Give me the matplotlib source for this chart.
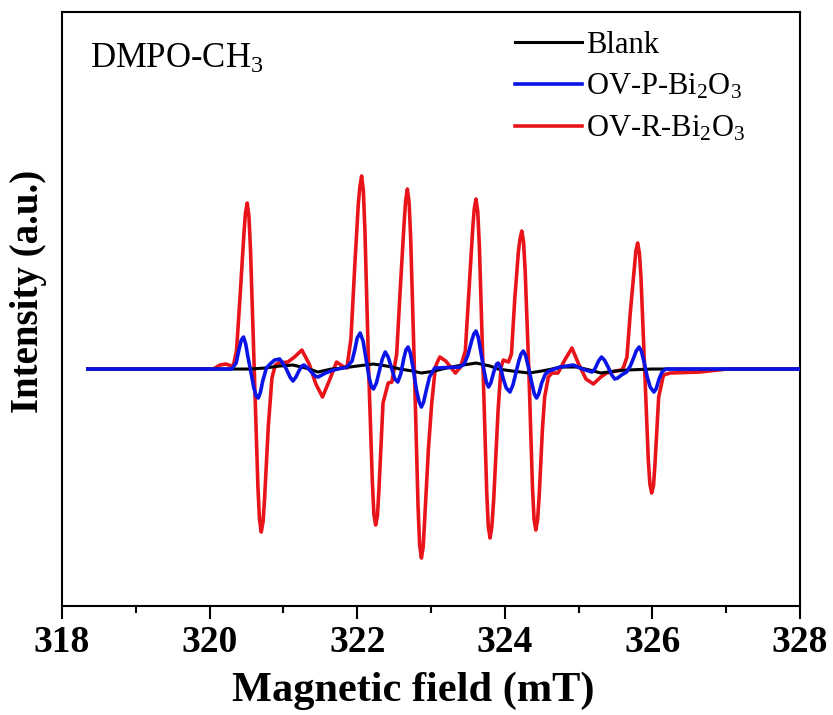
import matplotlib
matplotlib.use('Agg')
import matplotlib.pyplot as plt
import numpy as np

plt.rcParams['font.family'] = ['Liberation Serif', 'DejaVu Serif']
plt.rcParams['mathtext.fontset'] = 'custom'
plt.rcParams['mathtext.rm'] = 'Liberation Serif'
plt.rcParams['mathtext.it'] = 'Liberation Serif:italic'
plt.rcParams['mathtext.bf'] = 'Liberation Serif:bold'

# EPR spectra (field in mT, intensity in a.u.)
field_red = [318.35, 320.05, 320.14, 320.22, 320.30,
             320.32, 320.365, 320.415, 320.465, 320.486, 320.51, 320.534, 320.555,
             320.605, 320.655, 320.676, 320.70, 320.724,
             320.745, 320.795, 320.845, 320.89, 320.93, 321.06, 321.15, 321.25, 321.35,
             321.44, 321.53, 321.62, 321.72, 321.80, 321.86,
             321.915, 321.965, 322.015, 322.036, 322.06, 322.084, 322.105, 322.155,
             322.205, 322.226, 322.25, 322.274,
             322.295, 322.35, 322.42, 322.47,
             322.535, 322.585, 322.635, 322.656, 322.68, 322.704, 322.725, 322.775,
             322.825, 322.846, 322.87, 322.894,
             322.915, 322.965, 323.01, 323.06, 323.08, 323.12, 323.20, 323.33, 323.40,
             323.465, 323.515, 323.565, 323.586, 323.61, 323.634, 323.655, 323.705,
             323.755, 323.776, 323.80, 323.824,
             323.85, 323.91, 323.95, 323.98, 324.05,
             324.09, 324.135, 324.185, 324.206, 324.23, 324.254, 324.275, 324.325,
             324.375, 324.396, 324.42, 324.444,
             324.465, 324.51, 324.54, 324.59, 324.64, 324.72, 324.82, 324.91, 325.00,
             325.10, 325.20, 325.30, 325.38, 325.50, 325.58,
             325.61, 325.655, 325.70, 325.755, 325.776, 325.80, 325.824, 325.845,
             325.895, 325.945, 325.966, 325.99, 326.014,
             326.035, 326.085, 326.15, 326.24, 326.64, 327.01, 328.00]
int_red = [0, 0, 4, 5, 3,
           3, 18, 75, 135, 156, 166, 152, 118,
           0, -118, -150, -163, -153,
           -130, -58, -9, 4, 6, 7, 12, 19, 5,
           -15, -28, -12, 7, 3, 1,
           30, 100, 165, 182, 193, 178, 138, 0,
           -112, -145, -156, -147,
           -120, -34, -14, -13,
           15, 82, 145, 168, 180, 166, 130, 0,
           -138, -176, -189, -178,
           -150, -80, -34, 2, 6, 12, 8, -4, 2,
           18, 79, 140, 160, 170, 157, 124, 0,
           -123, -157, -169, -158,
           -130, -40, 2, 9, 7,
           15, 70, 118, 130, 138, 127, 100, 0,
           -118, -150, -161, -151,
           -128, -60, -28, -8, -4, -4, 10, 21, 5,
           -10, -15, -8, -4, -2, -1,
           2, 12, 56, 100, 118, 126, 116, 92,
           0, -92, -115, -124, -117,
           -95, -28, -6, -4, -3, 0, 0]

field_blue = [318.35, 320.30, 320.36, 320.40, 320.43, 320.46, 320.49, 320.52, 320.56,
              320.60, 320.63, 320.66, 320.69, 320.72, 320.77, 320.82, 320.88, 320.95,
              321.00, 321.04, 321.09, 321.13, 321.17, 321.21, 321.25, 321.28, 321.33,
              321.38, 321.43, 321.47, 321.52, 321.57, 321.68, 321.80, 321.86,
              321.93, 321.97, 322.00, 322.04, 322.08, 322.12, 322.16, 322.19, 322.22,
              322.26, 322.30, 322.34, 322.38, 322.42, 322.47, 322.51, 322.55, 322.59,
              322.63, 322.66, 322.69, 322.72, 322.76, 322.80, 322.84, 322.87, 322.90,
              322.94, 322.98, 323.05, 323.39,
              323.45, 323.50, 323.55, 323.58, 323.61, 323.64, 323.68, 323.72, 323.75,
              323.78, 323.81, 323.85, 323.89, 323.91, 323.94, 323.98, 324.02, 324.07,
              324.11, 324.15, 324.19, 324.22, 324.25, 324.28, 324.32, 324.36, 324.40,
              324.43, 324.46, 324.50, 324.55, 324.60, 324.75, 324.93, 325.05, 325.18,
              325.22, 325.27, 325.31, 325.35, 325.40, 325.45, 325.49, 325.53, 325.58,
              325.65, 325.70, 325.74, 325.78, 325.82, 325.85, 325.89, 325.93, 325.97,
              326.02, 326.05, 326.09, 326.13, 326.18, 326.30, 328.00]
int_blue = [0, 0, 6, 20, 29, 32, 25, 12, -3,
            -19, -27, -29, -23, -12, 1, 5, 9, 10,
            5, 0, -8, -12, -8, -2, 3, 4, 1,
            -3, -7, -8, -6, -4, -1, 1, 2,
            8, 20, 31, 36, 28, 10, -8, -17, -20,
            -14, -2, 10, 17, 12, 0, -10, -13, -5,
            10, 19, 22, 16, 0, -20, -33, -38, -33,
            -20, -8, 1, 2,
            5, 14, 28, 35, 38, 32, 15, -2, -13,
            -18, -14, -3, 5, 6, 2, -10, -19, -23,
            -16, -4, 8, 15, 18, 14, 2, -12, -25,
            -29, -25, -14, -5, -2, 2, 4, 0, -3,
            0, 8, 12, 9, 2, -6, -10, -9, -6,
            -3, 3, 10, 18, 22, 18, 6, -8, -18,
            -23, -20, -10, -3, 0, 0, 0]

field_blank = [318.35, 320.20, 320.55, 320.75, 320.95, 321.13, 321.30, 321.47, 321.65,
               321.80, 322.00, 322.22, 322.40, 322.58, 322.75, 322.87, 323.05, 323.15,
               323.35, 323.61, 323.80, 323.91, 324.10, 324.33, 324.50, 324.64, 324.75,
               324.98, 325.15, 325.30, 325.50, 325.65, 326.00, 328.00]
int_blank = [0, 0, 0, 1, 3, 4, 1, -3, 0,
             1, 3, 5, 3, 0, -2, -4, -2, 0,
             3, 6, 3, 0, -2, -4, -2, 0, 2,
             2, -1, -4, -2, -1, 0, 0]

labels = ['Blank', 'OV-P-Bi$_2$O$_3$', 'OV-R-Bi$_2$O$_3$']
xticks = [318, 320, 322, 324, 326, 328]

fig = plt.figure(figsize=(8.33, 7.15), dpi=100)
ax = fig.add_axes([0.0744, 0.1524, 0.886, 0.8308])

ax.plot(field_red, int_red, color='#e8141a', lw=2.6, label=labels[2], zorder=2,
        solid_joinstyle='round')
ax.plot(field_blank, int_blank, color='black', lw=2.2, label=labels[0], zorder=3)
ax.plot(field_blue, int_blue, color='#0a14e6', lw=2.6, label=labels[1], zorder=4,
        solid_joinstyle='round')

ax.set_xlim(318, 328)
ax.set_ylim(-237, 357)
ax.set_xticks(xticks)
ax.set_xticks([319, 321, 323, 325, 327], minor=True)
ax.set_yticks([])
ax.tick_params(axis='x', which='major', direction='out', length=9.5, width=1.5,
               labelsize=27, pad=4)
ax.tick_params(axis='x', which='minor', direction='out', length=5, width=1.5)
for lab in ax.get_xticklabels():
    lab.set_fontweight('bold')
for sp in ax.spines.values():
    sp.set_linewidth(1.5)

ax.set_xlabel('Magnetic field (mT)', fontsize=30.5, fontweight='bold')
ax.xaxis.set_label_coords(0.4756, -0.111)
ax.set_ylabel('Intensity (a.u.)', fontsize=28, fontweight='bold')
ax.yaxis.set_label_coords(-0.02, 0.53)

ax.text(0.038, 0.921, 'DMPO-CH$_3$', transform=ax.transAxes, fontsize=25,
        va='center', ha='left')

handles, labs = ax.get_legend_handles_labels()
order = [labs.index(l) for l in labels]
ax.legend([handles[i] for i in order], [labs[i] for i in order],
          loc='upper left', bbox_to_anchor=(0.614, 0.968), frameon=False,
          fontsize=22, handlelength=2.2, handletextpad=0.13, labelspacing=0.4,
          borderaxespad=0, borderpad=0)

fig.savefig('out.png', dpi=100)
